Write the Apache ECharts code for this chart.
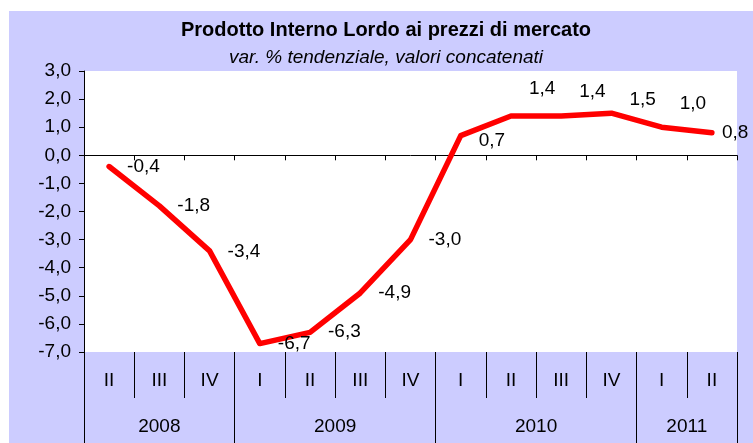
<!DOCTYPE html>
<html>
<head>
<meta charset="utf-8">
<script src="https://cdn.jsdelivr.net/npm/echarts@6/dist/echarts.min.js"></script>
<style>
  html, body { margin: 0; padding: 0; background: #fff; }
  #wrap { position: relative; width: 753px; height: 443px; }
  #band { position: absolute; left: 9px; top: 11px; width: 744px; height: 432px; background: #CCCCFF; }
  #chart { position: absolute; left: 0; top: 0; width: 753px; height: 443px; }
</style>
</head>
<body>
<div id="wrap">
  <div id="band"></div>
  <div id="chart"></div>
</div>
<script>
// trimestri e valori (var. % tendenziale)
const quarters = ['II', 'III', 'IV', 'I', 'II', 'III', 'IV', 'I', 'II', 'III', 'IV', 'I', 'II']
const values = [-0.4, -1.8, -3.4, -6.7, -6.3, -4.9, -3.0, 0.7, 1.4, 1.4, 1.5, 1.0, 0.8]
const years = ['2008', '2009', '2010', '2011']
const quartersPerYear = [3, 4, 4, 2]
const yMin = -7
const yMax = 3

// label nudges, like the hand-placed ones in the original
const labelNudge = [[0, 0], [0, 0], [0, 1], [0, 0], [0, -1], [0, 0], [0, 0],
  [0, 5], [0, -27], [0, -24], [0, -13], [0, -23], [-8, 0]]

const fmt = v => v.toFixed(1).replace('.', ',')

// year boundaries and centres on a 0..n scale
let bounds = [0]
quartersPerYear.forEach(n => bounds.push(bounds[bounds.length - 1] + n))
let mids = years.map((y, i) => (bounds[i] + bounds[i + 1]) / 2)

const font = 'Arial, "Liberation Sans", sans-serif'

let chart = echarts.init(document.getElementById('chart'), null, {renderer: 'canvas'})
chart.setOption({
  animation: false,
  title: {
    text: 'Prodotto Interno Lordo ai prezzi di mercato',
    subtext: 'var. % tendenziale, valori concatenati',
    left: 381,
    textAlign: 'center',
    top: 15,
    itemGap: 8,
    textStyle: {fontSize: 20, fontWeight: 'bold', color: '#000', fontFamily: font},
    subtextStyle: {fontSize: 19, fontStyle: 'italic', color: '#000', fontFamily: font}
  },
  grid: {
    left: 84, right: 16, top: 71, bottom: 91,
    show: true, backgroundColor: '#fff', borderWidth: 0
  },
  xAxis: [
    {
      // linea dello zero
      type: 'category',
      data: quarters,
      position: 'bottom',
      boundaryGap: true,
      axisLine: {onZero: true, lineStyle: {color: '#000', width: 1}},
      axisTick: {show: true, interval: 0, length: 5, lineStyle: {color: '#000'}},
      axisLabel: {show: false},
      splitLine: {show: false}
    },
    {
      // trimestri
      type: 'category',
      data: quarters,
      position: 'bottom',
      boundaryGap: true,
      axisLine: {show: false, onZero: false},
      axisTick: {show: true, interval: 0, length: 46, lineStyle: {color: '#000'}},
      axisLabel: {interval: 0, margin: 19, fontSize: 19, color: '#000', fontFamily: font},
      splitLine: {show: false}
    },
    {
      // anni
      type: 'value',
      min: 0,
      max: bounds[bounds.length - 1],
      position: 'bottom',
      axisLine: {show: false, onZero: false},
      axisTick: {show: true, customValues: bounds, length: 91, lineStyle: {color: '#000'}},
      axisLabel: {
        customValues: mids,
        margin: 65,
        fontSize: 19,
        color: '#000',
        fontFamily: font,
        formatter: v => years[mids.indexOf(v)] || ''
      },
      splitLine: {show: false}
    }
  ],
  yAxis: {
    type: 'value',
    min: yMin,
    max: yMax,
    interval: 1,
    axisLine: {show: true, lineStyle: {color: '#000', width: 1}},
    axisTick: {show: true, length: 5, lineStyle: {color: '#000'}},
    axisLabel: {margin: 13, fontSize: 19, color: '#000', fontFamily: font, formatter: fmt},
    splitLine: {show: false}
  },
  series: [
    {
      type: 'line',
      xAxisIndex: 0,
      data: values.map((v, i) => ({
        value: v,
        label: {offset: labelNudge[i]}
      })),
      symbol: 'circle',
      symbolSize: 2,
      itemStyle: {color: '#FF0000'},
      lineStyle: {color: '#FF0000', width: 5.5, cap: 'round', join: 'round'},
      label: {
        show: true,
        position: 'right',
        distance: 17,
        fontSize: 19,
        color: '#000',
        fontFamily: font,
        formatter: p => fmt(p.value)
      },
      emphasis: {disabled: true}
    }
  ]
})
</script>
</body>
</html>
